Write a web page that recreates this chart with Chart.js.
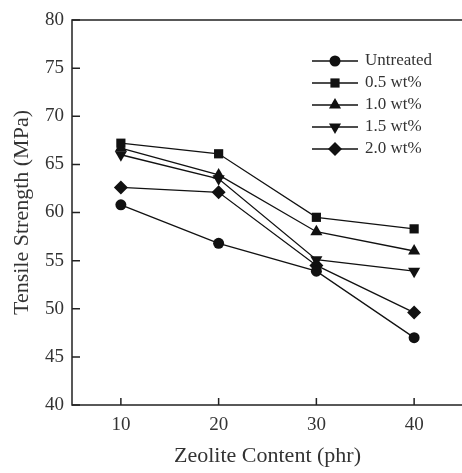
<!DOCTYPE html>
<html lang="en">
<head>
  <meta charset="UTF-8" />
  <title>Tensile Strength vs Zeolite Content</title>
  <script src="https://cdn.jsdelivr.net/npm/chart.js"></script>
  <style>
    html, body { margin: 0; padding: 0; background: #fff; overflow: hidden; }
    #wrap { width: 470px; height: 473px; }
  </style>
</head>
<body>
  <div id="wrap"><canvas id="chart"></canvas></div>

  <script>
    // data
    const zeolite = [10, 20, 30, 40];
    const untreated = [60.8, 56.8, 53.9, 47.0];
    const wt05 = [67.2, 66.1, 59.5, 58.3];
    const wt10 = [66.7, 63.9, 58.0, 56.0];
    const wt15 = [66.0, 63.5, 55.1, 53.9];
    const wt20 = [62.6, 62.1, 54.5, 49.6];
    const seriesNames = ["Untreated", "0.5 wt%", "1.0 wt%", "1.5 wt%", "2.0 wt%"];
    const xTicks = [10, 20, 30, 40];
    const yTicks = [40, 45, 50, 55, 60, 65, 70, 75, 80];

    const INK = "#111";
    const serif = "'Liberation Serif', 'DejaVu Serif', serif";

    const markers = [
      { pointStyle: "circle", pointRadius: 5.5, pointRotation: 0 },
      { pointStyle: "rect", pointRadius: 6.5, pointRotation: 0 },
      { pointStyle: "triangle", pointRadius: 7, pointRotation: 0 },
      { pointStyle: "triangle", pointRadius: 7, pointRotation: 180 },
      { pointStyle: "rectRot", pointRadius: 7, pointRotation: 0 }
    ];

    const allSeries = [untreated, wt05, wt10, wt15, wt20];

    const datasets = allSeries.map((vals, i) => ({
      label: seriesNames[i],
      data: vals.map((v, j) => ({ x: zeolite[j], y: v })),
      borderColor: INK,
      backgroundColor: INK,
      borderWidth: 1.3,
      pointBorderWidth: 0,
      pointHoverRadius: markers[i].pointRadius,
      ...markers[i]
    }));

    // box + inward ticks
    const framePlugin = {
      id: "frame",
      beforeDatasetsDraw(chart) {
        const { ctx, chartArea: a, scales: { x, y } } = chart;
        ctx.save();
        ctx.strokeStyle = "#222";
        ctx.lineWidth = 1.5;
        ctx.strokeRect(a.left, a.top, a.width, a.height);
        ctx.beginPath();
        x.ticks.forEach(t => {
          const px = x.getPixelForValue(t.value);
          ctx.moveTo(px, a.bottom);
          ctx.lineTo(px, a.bottom - 7);
        });
        y.ticks.forEach(t => {
          const py = y.getPixelForValue(t.value);
          ctx.moveTo(a.left, py);
          ctx.lineTo(a.left + 8, py);
        });
        ctx.stroke();
        ctx.restore();
      }
    };

    // legend inside the plot, line + marker style
    const legendPlugin = {
      id: "innerLegend",
      afterDatasetsDraw(chart) {
        const { ctx } = chart;
        const x0 = 312, x1 = 358, tx = 365, y0 = 61, dy = 22;
        ctx.save();
        chart.data.datasets.forEach((ds, i) => {
          const yy = y0 + i * dy;
          ctx.strokeStyle = INK;
          ctx.lineWidth = 1.5;
          ctx.beginPath();
          ctx.moveTo(x0, yy);
          ctx.lineTo(x1, yy);
          ctx.stroke();
          ctx.fillStyle = INK;
          Chart.helpers.drawPoint(ctx, {
            pointStyle: ds.pointStyle,
            radius: ds.pointRadius,
            rotation: ds.pointRotation,
            borderWidth: 0
          }, (x0 + x1) / 2, yy);
          ctx.fillStyle = "#333";
          ctx.font = "17px " + serif;
          ctx.textBaseline = "middle";
          ctx.textAlign = "left";
          ctx.fillText(ds.label, tx, yy);
        });
        ctx.restore();
      }
    };

    new Chart(document.getElementById("chart"), {
      type: "line",
      data: { datasets: datasets },
      options: {
        responsive: true,
        maintainAspectRatio: false,
        animation: false,
        layout: { padding: { top: 20, right: 5, left: 0, bottom: 0 } },
        plugins: {
          legend: { display: false },
          tooltip: { enabled: false }
        },
        scales: {
          x: {
            type: "linear",
            min: 5,
            max: 45,
            afterBuildTicks: s => { s.ticks = xTicks.map(v => ({ value: v })); },
            afterFit: s => { s.height = 68; },
            grid: { display: false, drawTicks: false },
            border: { display: false },
            ticks: { color: "#333", padding: 9, font: { family: serif, size: 19 } },
            title: {
              display: true,
              text: "Zeolite Content (phr)",
              color: "#333",
              font: { family: serif, size: 22 },
              padding: { top: 6 }
            }
          },
          y: {
            min: 40,
            max: 80,
            afterBuildTicks: s => { s.ticks = yTicks.map(v => ({ value: v })); },
            afterFit: s => { s.width = 72; },
            grid: { display: false, drawTicks: false },
            border: { display: false },
            ticks: { color: "#333", padding: 8, font: { family: serif, size: 19 } },
            title: {
              display: true,
              text: "Tensile Strength (MPa)",
              color: "#333",
              font: { family: serif, size: 22 },
              padding: { top: 9, bottom: 4 }
            }
          }
        }
      },
      plugins: [framePlugin, legendPlugin]
    });
  </script>
</body>
</html>
